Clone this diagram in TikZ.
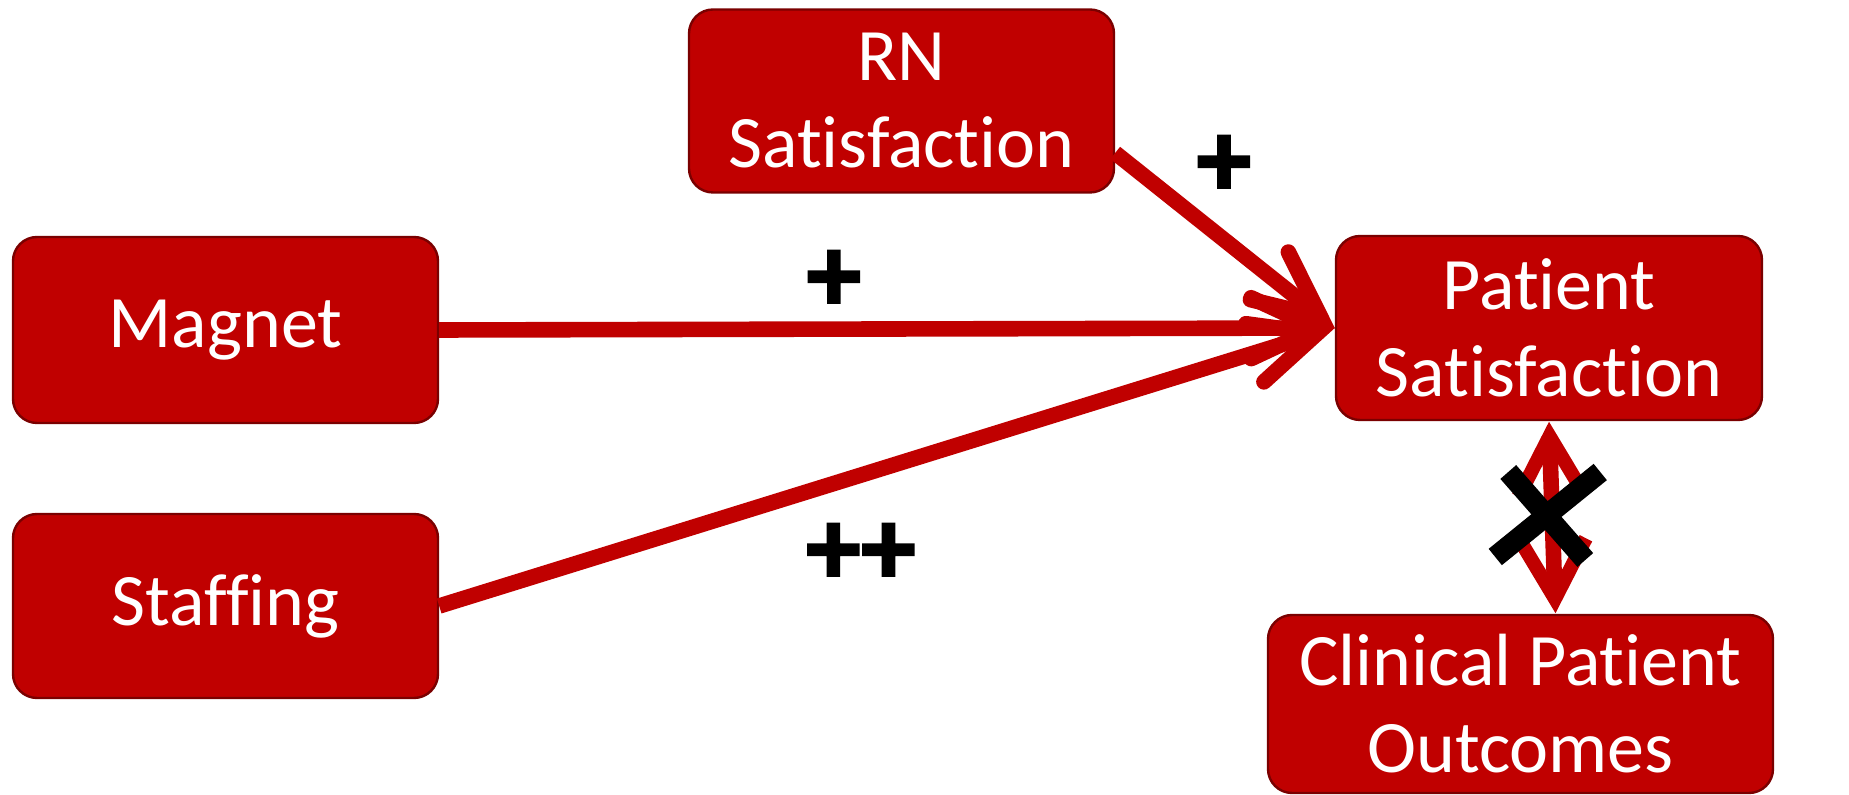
\documentclass[tikz,border=0pt]{standalone}
\usepackage{fontspec}
\setmainfont{Carlito}[Ligatures={NoCommon}]
\newfontfamily\signfont{Carlito}[Ligatures={NoCommon}, UprightFont=* Bold, FakeBold=2.5]
\usetikzlibrary{calc}
\definecolor{boxred}{HTML}{C00000}
\definecolor{boxedge}{HTML}{7A0000}
\begin{document}
\begin{tikzpicture}[x=0.5pt,y=-0.5pt,
  box/.style={draw=boxedge, line width=1.2pt, fill=boxred, rounded corners=12pt,
    text=white, align=center, inner sep=0pt,
    font=\fontsize{37}{43.5}\selectfont},
  link/.style={draw=boxred, line width=7.8pt},
  barb/.style={draw=boxred, line width=7.8pt, line cap=round, line join=miter},
  barbd/.style={draw=boxred, line width=7pt, line cap=butt, line join=miter},
  sign/.style={font=\signfont\fontsize{54}{54}\selectfont, inner sep=0pt},
  cross/.style={draw=black, line width=10.5pt, line cap=butt}]
\useasboundingbox (0,0) rectangle (1849,795);

% factor boxes
\node[box, minimum width=212.5pt, minimum height=91.5pt] (R) at (901.5,101) {RN\\Satisfaction};
\node[box, minimum width=212.5pt, minimum height=93pt] (M) at (225.5,330) {Magnet};
\node[box, minimum width=212.5pt, minimum height=92pt] (S) at (225.5,606) {Staffing};
\node[box, minimum width=213pt, minimum height=92pt] (P) at (1549,328) {Patient\\Satisfaction};
\node[box, minimum width=252.5pt, minimum height=89pt] (C) at (1520.5,704) {Clinical Patient\\Outcomes};

% arrows into patient satisfaction
\coordinate (rs) at ($(R.north east)!0.78!(R.south east)$);
\coordinate (tr) at ($(P.west)!9.2pt!(rs)$);
\coordinate (tm) at ($(P.west)!9.2pt!(M.east)$);
\coordinate (ts) at ($(P.west)!9.2pt!(S.east)$);

\draw[link] (rs) -- (tr);
\draw[link] (M.east) -- (tm);
\draw[link] (S.east) -- (ts);

\draw[barb] ($(tr)!36pt!25:(rs)$) -- (tr) -- ($(tr)!36pt!-25:(rs)$);
\draw[barb] ($(tm)!36pt!25:(M.east)$) -- (tm) -- ($(tm)!36pt!-25:(M.east)$);
\draw[barb] ($(ts)!36pt!25:(S.east)$) -- (ts) -- ($(ts)!36pt!-25:(S.east)$);

% two-way link to clinical outcomes
\coordinate (dt) at (P.south);
\coordinate (db) at ($(C.north)+(35,0)$);
\coordinate (dt2) at ($(dt)!7.5pt!(db)$);
\coordinate (db2) at ($(db)!7.5pt!(dt)$);
\draw[link] (dt2) -- (db2);
\draw[barbd] ($(dt2)!34pt!29:(db2)$) -- (dt2) -- ($(dt2)!34pt!-29:(db2)$);
\draw[barbd] ($(db2)!34pt!29:(dt2)$) -- (db2) -- ($(db2)!34pt!-29:(dt2)$);

% crossing-out mark
\coordinate (xc) at ($(dt)!0.5!(db)$);
\draw[cross] ($(xc)+(-44,-45.5)$) -- ($(xc)+(33,42.5)$);
\draw[cross] ($(xc)+(48,-45.5)$) -- ($(xc)+(-57,39.5)$);

% effect signs
\node[sign] (s1) at (1224,166) {+};
\node[sign] (s2) at (834,281) {+};
\node[sign] (s3) at (861,554) {++};
\end{tikzpicture}
\end{document}
